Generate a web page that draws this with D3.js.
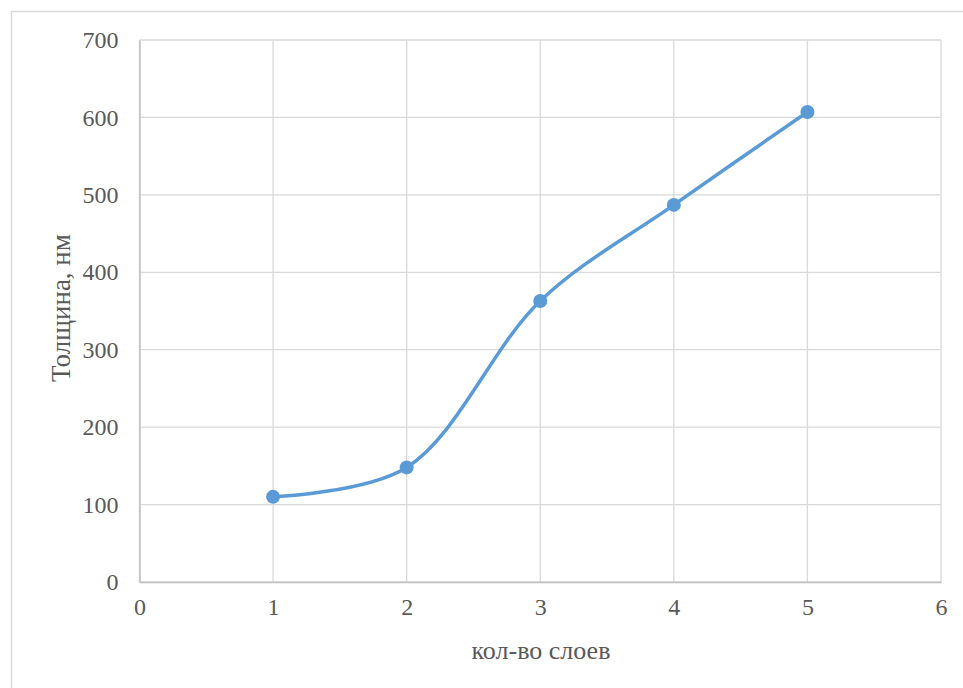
<!DOCTYPE html>
<html><head><meta charset="utf-8">
<script src="https://cdn.jsdelivr.net/npm/d3@7"></script>
<style>body{margin:0;background:#fff}svg{display:block}</style>
</head><body>
<script>
const layers = [1, 2, 3, 4, 5];
const thickness = [110, 148, 363, 487, 607];
const xTicks = [0, 1, 2, 3, 4, 5, 6];
const yTicks = [0, 100, 200, 300, 400, 500, 600, 700];
const xTitle = "кол-во слоев";
const yTitle = "Толщина, нм";

const W = 963, H = 688;
const m = {left: 139.5, right: 941, top: 40, bottom: 582};
const svg = d3.select("body").append("svg").attr("width", W).attr("height", H);
svg.append("rect").attr("x", 11.5).attr("y", 11.5).attr("width", W + 10).attr("height", H + 10)
  .attr("fill", "#fff").attr("stroke", "#d9d9d9").attr("stroke-width", 1.5);

const x = d3.scaleLinear().domain([0, 6]).range([m.left, m.right]);
const y = d3.scaleLinear().domain([0, 700]).range([m.bottom, m.top]);
const font = "'Liberation Serif', 'Times New Roman', serif";

// grid
svg.append("g").selectAll("line").data(yTicks).join("line")
  .attr("x1", m.left).attr("x2", m.right).attr("y1", d => y(d)).attr("y2", d => y(d))
  .attr("stroke", "#d9d9d9").attr("stroke-width", 1.3);
svg.append("g").selectAll("line").data(xTicks).join("line")
  .attr("y1", m.top).attr("y2", m.bottom).attr("x1", d => x(d)).attr("x2", d => x(d))
  .attr("stroke", "#d9d9d9").attr("stroke-width", 1.3);

// axes
const xAxis = d3.axisBottom(x).tickValues(xTicks).tickFormat(d3.format("d")).tickSize(0).tickPadding(16);
const gx = svg.append("g").attr("transform", `translate(0,${m.bottom})`).call(xAxis);
gx.select(".domain").attr("stroke", "#bfbfbf").attr("stroke-width", 1.5);
gx.selectAll("text").attr("font-family", font).attr("font-size", 24).attr("fill", "#595959");

const yAxis = d3.axisLeft(y).tickValues(yTicks).tickFormat(d3.format("d")).tickSize(0).tickPadding(21);
const gy = svg.append("g").attr("transform", `translate(${m.left},0)`).call(yAxis);
gy.select(".domain").attr("stroke", "#bfbfbf").attr("stroke-width", 1.5);
gy.selectAll("text").attr("font-family", font).attr("font-size", 24).attr("fill", "#595959");

// titles
svg.append("text").attr("x", 541).attr("y", 659).attr("text-anchor", "middle")
  .attr("font-family", font).attr("font-size", 26).attr("fill", "#595959").text(xTitle);
svg.append("text").attr("transform", `translate(70,${(m.top + m.bottom) / 2 - 3}) rotate(-90)`)
  .attr("text-anchor", "middle").attr("font-family", font).attr("font-size", 27)
  .attr("fill", "#595959").text(yTitle);

// series
const data = layers.map((d, i) => ({x: d, y: thickness[i]}));
const line = d3.line().x(d => x(d.x)).y(d => y(d.y)).curve(d3.curveCatmullRom.alpha(0.5));
svg.append("path").datum(data).attr("d", line).attr("fill", "none")
  .attr("stroke", "#5b9bd5").attr("stroke-width", 3.5).attr("stroke-linecap", "round");
svg.append("g").selectAll("circle").data(data).join("circle")
  .attr("cx", d => x(d.x)).attr("cy", d => y(d.y)).attr("r", 7).attr("fill", "#5b9bd5");
</script>
</body></html>
